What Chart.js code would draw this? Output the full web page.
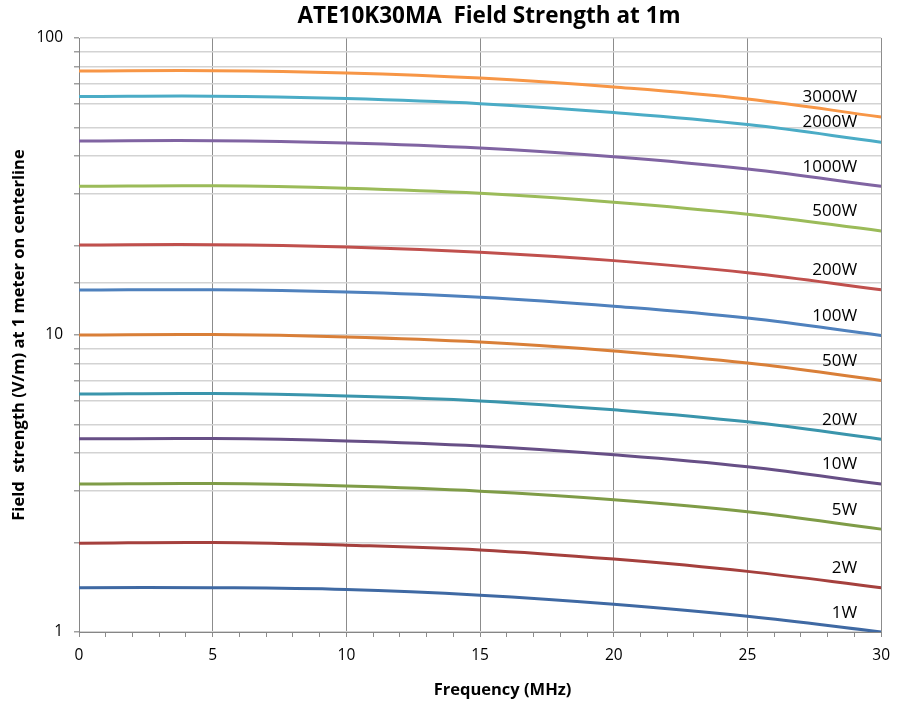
<!DOCTYPE html>
<html><head><meta charset="utf-8">
<script src="https://cdn.jsdelivr.net/npm/chart.js@4.4.0/dist/chart.umd.min.js"></script>
<style>html,body{margin:0;padding:0;background:#fff}#wrap{width:899px;height:706px;position:relative}</style>
</head><body><div id="wrap"><canvas id="c" width="899" height="706"></canvas></div>
<script>
const chartTitle = 'ATE10K30MA  Field Strength at 1m';
const xTitle = 'Frequency (MHz)';
const yTitle = 'Field  strength (V/m) at 1 meter on centerline';
const frequencies = [0, 5, 10, 15, 20, 25, 30];
const yTickLabels = [1, 10, 100];
const seriesNames = ['1W','2W','5W','10W','20W','50W','100W','200W','500W','1000W','2000W','3000W'];
const s1W    = [1.41, 1.41, 1.39, 1.33, 1.24, 1.13, 1.00];
const s2W    = [1.99, 2.00, 1.96, 1.89, 1.76, 1.60, 1.41];
const s5W    = [3.15, 3.16, 3.10, 2.98, 2.79, 2.54, 2.22];
const s10W   = [4.47, 4.48, 4.40, 4.23, 3.95, 3.60, 3.15];
const s20W   = [6.33, 6.35, 6.23, 6.00, 5.60, 5.10, 4.46];
const s50W   = [10.0, 10.03, 9.85, 9.47, 8.84, 8.05, 7.03];
const s100W  = [14.17, 14.2, 13.95, 13.4, 12.5, 11.4, 9.96];
const s200W  = [20.1, 20.15, 19.8, 19.0, 17.8, 16.2, 14.2];
const s500W  = [31.7, 31.8, 31.2, 30.0, 28.0, 25.5, 22.4];
const s1000W = [45.0, 45.1, 44.3, 42.6, 39.8, 36.2, 31.7];
const s2000W = [63.5, 63.7, 62.5, 60.1, 56.1, 51.1, 44.6];
const s3000W = [77.4, 77.6, 76.3, 73.3, 68.4, 62.3, 54.2];
const seriesValues = [s1W, s2W, s5W, s10W, s20W, s50W, s100W, s200W, s500W, s1000W, s2000W, s3000W];
const seriesColors = ['#3F69A3','#A5403D','#7F9C47','#674F86','#3A95AC','#D97F38',
                      '#4F81BD','#C0504D','#9BBB59','#8064A2','#4BACC6','#F79646'];

const FONT = "'Open Sans', 'DejaVu Sans', sans-serif";

const datasets = seriesNames.map((n, i) => ({
  label: n,
  data: frequencies.map((f, j) => ({x: f, y: seriesValues[i][j]})),
  borderColor: seriesColors[i],
  backgroundColor: seriesColors[i],
  borderWidth: 3,
  pointRadius: 0,
  fill: false,
  tension: 0.4
}));

const textPlugin = {
  id: 'textPlugin',
  afterDatasetsDraw(chart) {
    const {ctx, scales: {x, y}} = chart;
    ctx.save();
    ctx.fillStyle = '#000';
    ctx.font = "17px " + FONT;
    ctx.textAlign = 'right';
    ctx.textBaseline = 'middle';
    seriesNames.forEach((n, i) => {
      const d = seriesValues[i];
      const y25 = y.getPixelForValue(d[5]);
      const y30 = y.getPixelForValue(d[6]);
      const yl = y25 + 0.8 * (y30 - y25) - 16;
      ctx.fillText(n, x.getPixelForValue(29.1), yl);
    });
    ctx.restore();
  },
  afterDraw(chart) {
    const {ctx, chartArea} = chart;
    ctx.save();
    ctx.fillStyle = '#000';
    ctx.textAlign = 'center';
    ctx.textBaseline = 'middle';
    ctx.font = "bold 22.5px " + FONT;
    ctx.fillText(chartTitle, 489, 17);
    ctx.font = "bold 16.5px " + FONT;
    ctx.fillText(xTitle, chartArea.left + (chartArea.right - chartArea.left) * 0.528, 690);
    ctx.restore();
  }
};

new Chart(document.getElementById('c'), {
  type: 'line',
  data: {datasets},
  plugins: [textPlugin],
  options: {
    responsive: false,
    devicePixelRatio: 1,
    animation: false,
    layout: {padding: {left: 0, right: 17, top: 38, bottom: 0}},
    plugins: {legend: {display: false}, title: {display: false}, tooltip: {enabled: false}},
    scales: {
      x: {
        type: 'linear', min: 0, max: 30,
        afterFit(s) { s.height = 74; },
        ticks: {
          stepSize: 1, autoSkip: false, maxRotation: 0, padding: 9,
          color: '#000', font: {family: FONT, size: 15.5},
          callback: v => (v % 5 === 0 ? String(v) : '')
        },
        grid: {
          color: c => (c.tick && c.tick.value % 5 === 0 ? '#8c8c8c' : 'rgba(0,0,0,0)'),
          tickColor: '#8c8c8c', tickLength: 5, lineWidth: 1
        },
        border: {display: true, color: '#868686', width: 1}
      },
      y: {
        type: 'logarithmic', min: 1, max: 100,
        afterFit(s) { s.width = 79; },
        ticks: {
          autoSkip: false, padding: 11, color: '#000', font: {family: FONT, size: 15.5},
          callback: v => (yTickLabels.includes(v) ? String(v) : '')
        },
        grid: {color: '#d3d3d3', lineWidth: 1.5, tickColor: '#a0a0a0', tickLength: 5},
        border: {display: true, color: '#868686', width: 1},
        title: {display: true, text: yTitle, color: '#000',
                font: {family: FONT, size: 16.5, weight: 'bold'}, padding: {top: 9, bottom: 0}}
      }
    }
  }
});
</script></body></html>
